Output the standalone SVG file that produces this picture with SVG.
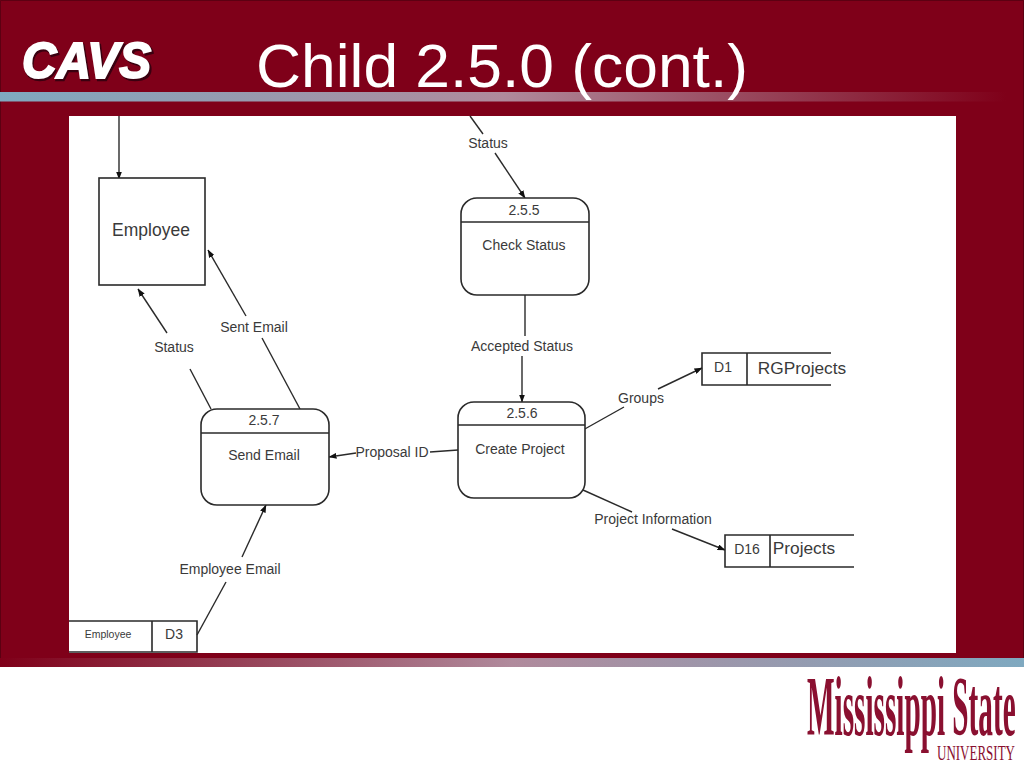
<svg xmlns="http://www.w3.org/2000/svg" width="1024" height="768" viewBox="0 0 1024 768">
<style>
.l{font-family:"Liberation Sans",Arial,sans-serif;fill:#3a3a3a;font-size:14px;text-anchor:middle}
.n{fill:#fff;stroke:#2a2a2a;stroke-width:1.6}
.s{fill:none;stroke:#2a2a2a;stroke-width:1.6}
.c{fill:none;stroke:#2a2a2a;stroke-width:1.4;marker-end:url(#a)}
.p{fill:none;stroke:#2a2a2a;stroke-width:1.4}
</style>
<defs>
<marker id="a" markerUnits="userSpaceOnUse" markerWidth="8" markerHeight="6" refX="7.500" refY="3" orient="auto"><path d="M0 0L8 3L0 6Z" fill="#111"/></marker>
<linearGradient id="g1"><stop offset="0" stop-color="#7fa9c0"/><stop offset=".5" stop-color="#b08a9c"/><stop offset="1" stop-color="#7f0019"/></linearGradient>
<linearGradient id="g2"><stop offset="0" stop-color="#7f0019"/><stop offset=".5" stop-color="#b08a9c"/><stop offset="1" stop-color="#7fa9c0"/></linearGradient>
</defs>
<rect width="1024" height="768" fill="#fff"/>
<rect width="1024" height="667" fill="#7f0019"/>
<path d="M0.500 666V0.500H1023.500V666" fill="none" stroke="#5c0012"/>
<rect y="92" width="1006" height="9.500" fill="url(#g1)"/>
<rect y="658" width="1024" height="9" fill="url(#g2)"/>
<rect x="69" y="116" width="887" height="537" fill="#fff"/>
<g id="cavs-logo">
<text x="23" y="80" font-family="Liberation Sans,Arial,sans-serif" font-size="50" font-weight="bold" font-style="italic" fill="#3a0010" textLength="130" lengthAdjust="spacingAndGlyphs" stroke="#3a0010" stroke-width="2.500">CAVS</text>
<text x="22" y="78" font-family="Liberation Sans,Arial,sans-serif" font-size="50" font-weight="bold" font-style="italic" fill="#fff" textLength="129" lengthAdjust="spacingAndGlyphs" stroke="#fff" stroke-width="2">CAVS</text>
</g>
<text id="title" x="502" y="87" font-family="Liberation Sans,Arial,sans-serif" font-size="62" fill="#fff" text-anchor="middle" textLength="492" lengthAdjust="spacingAndGlyphs">Child 2.5.0 (cont.)</text>
<g id="msu-logo" fill="#8a1030" font-family="Liberation Serif,Times New Roman,serif">
<text transform="translate(807 735) scale(.348 1)" font-size="84" font-weight="bold">Mississippi State</text>
<text transform="translate(937 760) scale(.591 1)" font-size="22">UNIVERSITY</text>
</g>
<g id="connectors">
<path class="c" d="M119 116V179"/>
<path class="p" d="M470 116L483 134"/>
<path class="c" d="M495 153L525 198"/>
<path class="p" d="M525 294V336"/>
<path class="c" d="M522 356V402"/>
<path class="p" d="M583 430L624 407"/>
<path class="c" d="M658 389L702 368"/>
<path class="p" d="M583 490L632 512"/>
<path class="c" d="M672 529L725 550"/>
<path class="p" d="M458 450L430 452"/>
<path class="c" d="M356 453L329 457"/>
<path class="p" d="M300 409L262 338"/>
<path class="c" d="M246 316L208 250"/>
<path class="p" d="M211 409L190 369"/>
<path class="c" d="M167 333L138 289"/>
<path class="p" d="M197 635L226 582"/>
<path class="c" d="M242 557L266 505"/>
</g>
<g id="employee"><rect class="n" x="99" y="178" width="106" height="107"/><text class="l" x="151" y="236" style="font-size:17.500px">Employee</text></g>
<g id="p255"><rect class="n" x="461" y="198" width="128" height="97" rx="16"/><path class="s" d="M461 222H589"/><text class="l" x="524" y="215">2.5.5</text><text class="l" x="524" y="250">Check Status</text></g>
<g id="p256"><rect class="n" x="458" y="402" width="127" height="96" rx="16"/><path class="s" d="M458 425H585"/><text class="l" x="522" y="418">2.5.6</text><text class="l" x="520" y="454">Create Project</text></g>
<g id="p257"><rect class="n" x="201" y="409" width="128" height="96" rx="16"/><path class="s" d="M201 433H329"/><text class="l" x="264" y="425">2.5.7</text><text class="l" x="264" y="460">Send Email</text></g>
<g id="d1"><path class="s" d="M831 353H702V385H831M747 353V385"/><text class="l" x="723" y="372">D1</text><text class="l" x="802" y="374" style="font-size:17.300px">RGProjects</text></g>
<g id="d16"><path class="s" d="M854 535H725V567H854M770 535V567"/><text class="l" x="747" y="554">D16</text><text class="l" x="804" y="554" style="font-size:17.300px">Projects</text></g>
<g id="d3"><path class="s" d="M69 621H197V652H69M152 621V652"/><text class="l" x="108" y="638" style="font-size:10.500px">Employee</text><text class="l" x="174" y="639">D3</text></g>
<g id="labels">
<text class="l" x="488" y="148">Status</text>
<text class="l" x="522" y="351">Accepted Status</text>
<text class="l" x="641" y="403">Groups</text>
<text class="l" x="653" y="524">Project Information</text>
<text class="l" x="392" y="457">Proposal ID</text>
<text class="l" x="254" y="332">Sent Email</text>
<text class="l" x="174" y="352">Status</text>
<text class="l" x="230" y="574">Employee Email</text>
</g>
</svg>
